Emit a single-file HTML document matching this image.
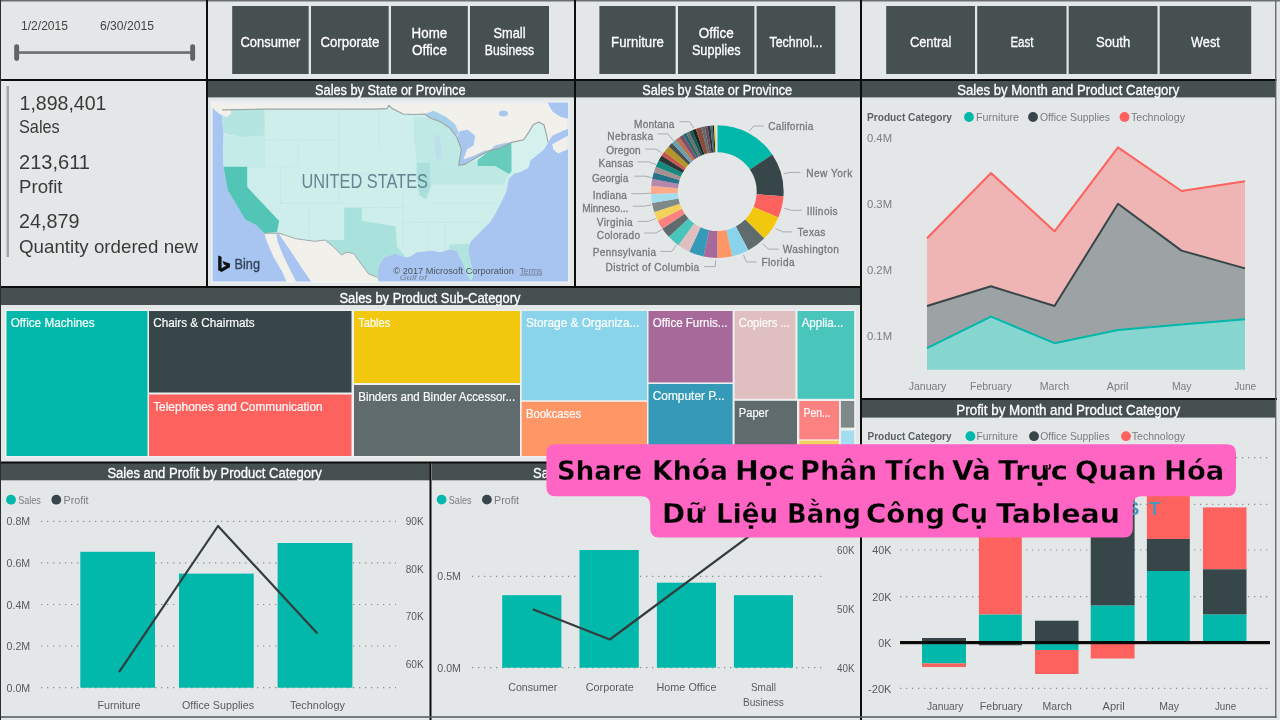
<!DOCTYPE html>
<html lang="vi"><head><meta charset="utf-8"><title>Share Khóa Học Phân Tích Và Trực Quan Hóa Dữ Liệu Bằng Công Cụ Tableau</title>
<style>
html,body{margin:0;padding:0;background:#e4e7e8;}
body{width:1280px;height:720px;overflow:hidden;position:relative;font-family:"Liberation Sans",sans-serif;}
svg{position:absolute;left:0;top:0;display:block;}
svg text{font-family:"Liberation Sans",sans-serif;}
</style></head><body>
<svg width="1280" height="720" viewBox="0 0 1280 720">
<rect x="0.0" y="0.0" width="1280.0" height="720.0" fill="#e4e7e8"/>
<rect x="0.0" y="0.0" width="1280.0" height="1.5" fill="#6a7071"/>
<rect x="208.0" y="81.0" width="366.0" height="16.4" fill="#465051"/>
<text x="315.0" y="95.2" font-size="13.8" fill="#fff" textLength="150.6" lengthAdjust="spacingAndGlyphs" stroke="#fff" stroke-width="0.3">Sales by State or Province</text>
<rect x="576.0" y="81.0" width="285.0" height="16.4" fill="#465051"/>
<text x="642.2" y="95.2" font-size="13.8" fill="#fff" textLength="150.0" lengthAdjust="spacingAndGlyphs" stroke="#fff" stroke-width="0.3">Sales by State or Province</text>
<rect x="862.0" y="81.0" width="414.0" height="16.4" fill="#465051"/>
<text x="957.3" y="95.2" font-size="13.8" fill="#fff" textLength="222.0" lengthAdjust="spacingAndGlyphs" stroke="#fff" stroke-width="0.3">Sales by Month and Product Category</text>
<rect x="0.0" y="288.0" width="860.0" height="17.0" fill="#465051"/>
<text x="339.5" y="302.8" font-size="13.8" fill="#fff" textLength="181.0" lengthAdjust="spacingAndGlyphs" stroke="#fff" stroke-width="0.3">Sales by Product Sub-Category</text>
<rect x="0.0" y="463.0" width="430.0" height="17.3" fill="#465051"/>
<text x="107.4" y="477.6" font-size="13.8" fill="#fff" textLength="214.5" lengthAdjust="spacingAndGlyphs" stroke="#fff" stroke-width="0.3">Sales and Profit by Product Category</text>
<rect x="432.0" y="463.0" width="428.0" height="17.3" fill="#465051"/>
<text x="533.0" y="477.6" font-size="13.8" fill="#fff" textLength="224.0" lengthAdjust="spacingAndGlyphs" stroke="#fff" stroke-width="0.3">Sales and Profit by Customer Segment</text>
<rect x="862.0" y="400.0" width="414.0" height="17.6" fill="#465051"/>
<text x="956.3" y="415.1" font-size="13.8" fill="#fff" textLength="224.0" lengthAdjust="spacingAndGlyphs" stroke="#fff" stroke-width="0.3">Profit by Month and Product Category</text>
<rect x="0.0" y="79.0" width="1276.5" height="2.0" fill="#0c0e0e"/>
<rect x="0.0" y="286.0" width="861.0" height="2.0" fill="#0c0e0e"/>
<rect x="0.0" y="461.5" width="861.0" height="2.0" fill="#0c0e0e"/>
<rect x="861.0" y="398.0" width="416.0" height="2.0" fill="#0c0e0e"/>
<rect x="206.0" y="0.0" width="2.0" height="287.0" fill="#0c0e0e"/>
<rect x="574.0" y="0.0" width="2.0" height="287.0" fill="#0c0e0e"/>
<rect x="860.0" y="0.0" width="2.0" height="720.0" fill="#0c0e0e"/>
<rect x="429.5" y="462.0" width="2.0" height="258.0" fill="#0c0e0e"/>
<rect x="1275.1" y="1.0" width="1.3" height="717.0" fill="#5d6465"/>
<rect x="0.0" y="716.2" width="1276.5" height="1.6" fill="#5a6162"/>
<rect x="-0.1" y="0.0" width="1.1" height="720.0" fill="#2a2f30"/>
<text x="21.0" y="30.0" font-size="12.5" fill="#444" textLength="47.0" lengthAdjust="spacingAndGlyphs">1/2/2015</text>
<text x="100.0" y="30.0" font-size="12.5" fill="#444" textLength="54.0" lengthAdjust="spacingAndGlyphs">6/30/2015</text>
<rect x="16.0" y="51.2" width="177.0" height="2.7" fill="#6e7273"/>
<rect x="14.2" y="44.3" width="4.9" height="16.6" rx="2.3" fill="#606465"/>
<rect x="190.2" y="44.3" width="4.9" height="16.6" rx="2.3" fill="#606465"/>
<rect x="6.5" y="86.0" width="2.5" height="171.0" fill="#a3a7a8"/>
<text x="19.5" y="109.7" font-size="20.5" fill="#3a3a3a" textLength="87.0" lengthAdjust="spacingAndGlyphs">1,898,401</text>
<text x="19.0" y="133.0" font-size="18.5" fill="#3a3a3a" textLength="40.7" lengthAdjust="spacingAndGlyphs">Sales</text>
<text x="19.0" y="169.0" font-size="20.5" fill="#3a3a3a" textLength="71.0" lengthAdjust="spacingAndGlyphs">213,611</text>
<text x="19.0" y="193.0" font-size="18.5" fill="#3a3a3a" textLength="43.5" lengthAdjust="spacingAndGlyphs">Profit</text>
<text x="19.0" y="228.0" font-size="20.5" fill="#3a3a3a" textLength="60.5" lengthAdjust="spacingAndGlyphs">24,879</text>
<text x="19.0" y="253.0" font-size="18.5" fill="#3a3a3a" textLength="179.0" lengthAdjust="spacingAndGlyphs">Quantity ordered new</text>
<rect x="232.2" y="6.0" width="76.5" height="68.0" fill="#465051"/>
<text x="240.4" y="46.8" font-size="14.5" fill="#fff" textLength="60.0" lengthAdjust="spacingAndGlyphs" stroke="#fff" stroke-width="0.3">Consumer</text>
<rect x="311.0" y="6.0" width="77.7" height="68.0" fill="#465051"/>
<text x="320.4" y="46.8" font-size="14.5" fill="#fff" textLength="59.0" lengthAdjust="spacingAndGlyphs" stroke="#fff" stroke-width="0.3">Corporate</text>
<rect x="391.0" y="6.0" width="76.8" height="68.0" fill="#465051"/>
<text x="411.6" y="37.8" font-size="14.5" fill="#fff" textLength="35.6" lengthAdjust="spacingAndGlyphs" stroke="#fff" stroke-width="0.3">Home</text>
<text x="411.9" y="55.0" font-size="14.5" fill="#fff" textLength="35.0" lengthAdjust="spacingAndGlyphs" stroke="#fff" stroke-width="0.3">Office</text>
<rect x="470.0" y="6.0" width="79.0" height="68.0" fill="#465051"/>
<text x="493.5" y="37.8" font-size="14.5" fill="#fff" textLength="32.0" lengthAdjust="spacingAndGlyphs" stroke="#fff" stroke-width="0.3">Small</text>
<text x="484.8" y="55.0" font-size="14.5" fill="#fff" textLength="49.4" lengthAdjust="spacingAndGlyphs" stroke="#fff" stroke-width="0.3">Business</text>
<rect x="599.4" y="6.0" width="76.2" height="68.0" fill="#465051"/>
<text x="611.1" y="46.8" font-size="14.5" fill="#fff" textLength="52.8" lengthAdjust="spacingAndGlyphs" stroke="#fff" stroke-width="0.3">Furniture</text>
<rect x="678.0" y="6.0" width="76.4" height="68.0" fill="#465051"/>
<text x="698.7" y="37.8" font-size="14.5" fill="#fff" textLength="35.0" lengthAdjust="spacingAndGlyphs" stroke="#fff" stroke-width="0.3">Office</text>
<text x="691.9" y="55.0" font-size="14.5" fill="#fff" textLength="48.7" lengthAdjust="spacingAndGlyphs" stroke="#fff" stroke-width="0.3">Supplies</text>
<rect x="756.6" y="6.0" width="78.7" height="68.0" fill="#465051"/>
<text x="769.5" y="46.8" font-size="14.5" fill="#fff" textLength="53.0" lengthAdjust="spacingAndGlyphs" stroke="#fff" stroke-width="0.3">Technol...</text>
<rect x="886.2" y="6.0" width="88.8" height="68.0" fill="#465051"/>
<text x="909.9" y="46.8" font-size="14.5" fill="#fff" textLength="41.5" lengthAdjust="spacingAndGlyphs" stroke="#fff" stroke-width="0.3">Central</text>
<rect x="977.2" y="6.0" width="89.3" height="68.0" fill="#465051"/>
<text x="1010.4" y="46.8" font-size="14.5" fill="#fff" textLength="23.0" lengthAdjust="spacingAndGlyphs" stroke="#fff" stroke-width="0.3">East</text>
<rect x="1068.7" y="6.0" width="88.8" height="68.0" fill="#465051"/>
<text x="1095.9" y="46.8" font-size="14.5" fill="#fff" textLength="34.4" lengthAdjust="spacingAndGlyphs" stroke="#fff" stroke-width="0.3">South</text>
<rect x="1159.7" y="6.0" width="91.5" height="68.0" fill="#465051"/>
<text x="1191.1" y="46.8" font-size="14.5" fill="#fff" textLength="28.7" lengthAdjust="spacingAndGlyphs" stroke="#fff" stroke-width="0.3">West</text>
<defs><clipPath id="mapclip"><rect x="6.6" y="7.6" width="355.6" height="179"/></clipPath><filter id="soft" x="-2%" y="-2%" width="104%" height="104%"><feGaussianBlur stdDeviation="0.55"/></filter></defs>
<rect x="211.4" y="101.4" width="358.0" height="181.2" fill="#f4f6f6"/>
<g transform="translate(206,95)" clip-path="url(#mapclip)"><g filter="url(#soft)">
<rect x="0.0" y="0.0" width="370.0" height="195.0" fill="#a8c4f0"/>
<path d="M13.0,7.6 L19.0,13.6 L16.3,14.9 L58.3,14.1 L108.4,14.1 L169.9,14.1 L170.0,14.1 L180.8,13.6 L183.0,10.3 L186.3,13.6 L197.1,19.0 L207.9,19.5 L218.8,19.0 L224.2,23.0 L235.0,27.1 L243.2,32.5 L249.9,40.7 L251.3,43.4 L255.4,54.2 L252.7,70.5 L259.4,69.1 L273.0,61.0 L283.8,55.6 L294.7,52.8 L305.5,47.4 L317.7,44.7 L323.1,36.6 L327.2,29.8 L332.6,27.1 L338.0,29.8 L340.7,40.7 L342.1,47.4 L346.2,40.7 L357.0,35.8 L361.9,33.9 L361.9,23.8 L354.3,21.7 L346.7,16.8 L341.3,7.6Z" fill="#f2f0ea"/>
<path d="M6.0,7.6 L16.8,7.6 L23.8,13.6 L21.7,19.5 L14.9,19.0 L8.1,14.1 L6.0,11.4Z" fill="#f2f0ea"/>
<path d="M346.2,49.3 L354.3,44.7 L361.9,40.7 L361.9,54.2 L352.1,58.5 L347.5,54.7Z" fill="#f2f0ea"/>
<path d="M219.3,19.0 L227.5,15.7 L239.9,21.7 L249.1,29.3 L252.9,37.9 L250.2,41.2 L243.2,32.5 L235.0,27.1 L224.2,23.0Z" fill="#a6d0ea"/>
<path d="M250.8,43.4 L253.5,36.3 L261.6,34.7 L269.2,40.7 L267.6,50.4 L261.1,54.2 L257.3,65.0 L252.7,70.5 L255.4,54.2Z" fill="#a9c6ee"/>
<path d="M252.7,70.5 L257.3,64.5 L267.6,60.7 L278.4,55.8 L283.8,55.6 L273.0,61.0 L259.4,69.1Z" fill="#a9c6ee"/>
<path d="M283.8,55.6 L289.2,50.4 L300.1,47.7 L305.5,47.4 L294.7,52.8Z" fill="#a9c6ee"/>
<ellipse cx="297.4" cy="18.4" rx="4.5" ry="3" fill="#a9c6ee"/>
<path d="M72.6,138.2 L89.4,143.6 L108.4,146.3 L119.2,145.0 L127.4,151.8 L135.5,159.9 L140.9,157.2 L147.7,158.5 L154.5,168.0 L162.6,178.9 L171.3,182.1 L173.4,189.7 L107.3,189.7 L94.3,170.7 L81.8,151.8 L75.1,142.3Z" fill="#f2f0ea"/>
<path d="M58.3,138.2 L70.5,138.8 L71.5,146.3 L77.0,159.9 L83.5,173.4 L91.6,189.7 L81.8,189.7 L75.9,176.2 L67.8,162.6 L61.2,147.7Z" fill="#f2f0ea"/>
<path d="M16.3,14.9 L58.3,14.1 L108.4,14.1 L169.9,14.1 L170.0,14.1 L180.8,13.6 L183.0,10.3 L186.3,13.6 L197.1,19.0 L207.9,19.5 L218.8,19.0 L224.2,23.0 L235.0,27.1 L243.2,32.5 L249.9,40.7 L251.3,43.4 L255.4,54.2 L252.7,70.5 L259.4,69.1 L273.0,61.0 L283.8,55.6 L294.7,52.8 L305.5,47.4 L317.7,44.7 L323.1,36.6 L327.2,29.8 L332.6,27.1 L338.0,29.8 L340.7,40.7 L342.1,47.4 L338.0,54.2 L329.9,61.0 L324.5,65.0 L323.1,70.5 L321.8,73.2 L313.6,77.2 L308.2,78.6 L302.8,84.0 L301.4,92.1 L300.1,97.6 L297.4,103.0 L294.7,108.4 L292.0,113.8 L289.2,119.2 L283.8,127.4 L278.4,132.8 L270.3,140.9 L264.9,146.3 L262.1,154.5 L263.5,162.6 L266.2,173.4 L267.0,181.6 L264.9,185.6 L260.8,178.9 L256.7,168.0 L252.7,159.9 L251.3,155.8 L243.2,154.5 L235.0,157.2 L224.2,155.8 L210.7,157.2 L205.2,161.2 L199.8,162.6 L189.0,158.5 L178.1,162.6 L172.7,170.7 L171.3,182.1 L162.6,178.9 L154.5,168.0 L147.7,158.5 L140.9,157.2 L135.5,159.9 L127.4,151.8 L119.2,145.0 L108.4,146.3 L89.4,143.6 L73.2,138.2 L58.3,138.2 L50.1,130.1 L39.3,124.7 L29.8,108.4 L21.7,94.9 L17.6,71.8 L16.8,54.2 L17.6,40.7 L16.3,27.1Z" fill="#cdeeeb"/>
<path d="M16.3,14.9 L58.3,14.1 L58.3,40.7 L35.2,42.0 L17.6,37.9 L16.3,27.1Z" fill="#b4e5e0"/>
<path d="M17.6,40.7 L35.2,42.0 L58.3,40.7 L58.3,71.8 L17.6,71.8 L16.8,54.2Z" fill="#c4ebe7"/>
<path d="M17.6,71.8 L41.2,71.8 L41.2,92.1 L73.2,126.0 L71.0,136.9 L58.3,138.2 L50.1,130.1 L39.3,124.7 L29.8,108.4 L21.7,94.9Z" fill="#52c5b6"/>
<path d="M119.2,145.0 L138.2,145.0 L138.2,112.5 L155.8,112.5 L155.8,126.0 L173.4,128.7 L189.7,131.4 L191.1,151.8 L199.8,162.6 L189.0,158.5 L178.1,162.6 L172.7,170.7 L171.3,182.1 L162.6,178.9 L154.5,168.0 L147.7,158.5 L140.9,157.2 L135.5,159.9 L127.4,151.8Z" fill="#a9e1dc"/>
<path d="M207.9,21.7 L224.2,23.0 L235.0,27.1 L243.2,32.5 L249.9,40.7 L251.3,43.4 L255.4,54.2 L252.7,70.5 L224.2,67.8 L210.7,67.8 L207.9,40.7Z" fill="#bfe9e5"/>
<path d="M210.7,67.8 L224.2,67.8 L225.6,89.4 L220.1,104.3 L213.4,100.3 L210.7,81.3Z" fill="#aadfdb"/>
<path d="M252.7,70.5 L259.4,69.1 L271.6,65.0 L271.6,71.0 L289.2,71.0 L302.8,79.1 L297.4,89.4 L273.0,89.4 L251.3,89.4 L224.2,89.4 L224.2,67.8Z" fill="#bde8e4"/>
<path d="M271.6,65.0 L283.8,55.6 L294.7,52.8 L305.5,47.4 L305.5,76.4 L302.8,79.1 L289.2,71.0 L271.6,71.0Z" fill="#68ccbd"/>
<path d="M243.2,154.5 L251.3,155.8 L252.7,159.9 L256.7,168.0 L260.8,178.9 L264.9,185.6 L267.0,181.6 L266.2,173.4 L263.5,162.6 L262.1,154.5 L263.5,148.5 L243.2,149.6Z" fill="#b2e4df"/>
<path d="M305.5,47.4 L317.7,44.7 L323.1,36.6 L327.2,29.8 L332.6,27.1 L338.0,29.8 L340.7,40.7 L342.1,47.4 L338.0,54.2 L329.9,61.0 L324.5,65.0 L323.1,70.5 L321.8,73.2 L313.6,77.2 L306.9,78.0Z" fill="#d4f1ee"/>
<path d="M6.4,7.5 L18.5,7.5 L25.4,12.7 L24.9,19.1 L20.8,22.0 L13.3,19.1 L6.9,13.3Z" fill="#f2f0ea"/>
<path d="M227.5,40.7 L234.0,40.1 L235.6,62.9 L230.2,64.5Z" fill="#bcdfea"/>
<path d="M16.3,14.9 L58.3,14.1 L108.4,14.1 L169.9,14.1 L170.0,14.1 L180.8,13.6 L183.0,10.3 L186.3,13.6 L197.1,19.0 L207.9,19.5 L218.8,19.0 L224.2,23.0 L235.0,27.1 L243.2,32.5 L249.9,40.7 L251.3,43.4 L255.4,54.2 L252.7,70.5 L259.4,69.1 L273.0,61.0 L283.8,55.6 L294.7,52.8 L305.5,47.4 L317.7,44.7 L323.1,36.6 L327.2,29.8 L332.6,27.1 L338.0,29.8 L340.7,40.7 L342.1,47.4" fill="none" stroke="#9aa3a3" stroke-width="1.1" stroke-linejoin="round"/>
<path d="M58.3,138.2 L73.2,138.2 L89.4,143.6 L108.4,146.3 L119.2,145.0 L127.4,151.8 L135.5,159.9 L140.9,157.2 L147.7,158.5 L154.5,168.0 L162.6,178.9 L171.3,182.1" fill="none" stroke="#a5abab" stroke-width="1.0" stroke-linejoin="round"/>
<path d="M58.3,14.1 L58.3,71.8" fill="none" stroke="#b7dcd9" stroke-width="0.6" stroke-linejoin="round" stroke-dasharray="1 1.2"/>
<path d="M41.2,71.8 L92.1,71.8" fill="none" stroke="#b7dcd9" stroke-width="0.6" stroke-linejoin="round" stroke-dasharray="1 1.2"/>
<path d="M92.1,44.7 L92.1,71.8" fill="none" stroke="#b7dcd9" stroke-width="0.6" stroke-linejoin="round" stroke-dasharray="1 1.2"/>
<path d="M58.3,44.7 L132.8,44.7" fill="none" stroke="#b7dcd9" stroke-width="0.6" stroke-linejoin="round" stroke-dasharray="1 1.2"/>
<path d="M132.8,14.1 L132.8,108.4" fill="none" stroke="#b7dcd9" stroke-width="0.6" stroke-linejoin="round" stroke-dasharray="1 1.2"/>
<path d="M74.5,71.8 L74.5,108.4" fill="none" stroke="#b7dcd9" stroke-width="0.6" stroke-linejoin="round" stroke-dasharray="1 1.2"/>
<path d="M74.5,108.4 L138.2,108.4" fill="none" stroke="#b7dcd9" stroke-width="0.6" stroke-linejoin="round" stroke-dasharray="1 1.2"/>
<path d="M103.0,108.4 L103.0,143.6" fill="none" stroke="#b7dcd9" stroke-width="0.6" stroke-linejoin="round" stroke-dasharray="1 1.2"/>
<path d="M173.4,14.1 L173.4,54.2" fill="none" stroke="#b7dcd9" stroke-width="0.6" stroke-linejoin="round" stroke-dasharray="1 1.2"/>
<path d="M132.8,78.6 L189.7,78.6" fill="none" stroke="#b7dcd9" stroke-width="0.6" stroke-linejoin="round" stroke-dasharray="1 1.2"/>
<path d="M155.8,112.5 L200.0,112.5" fill="none" stroke="#b7dcd9" stroke-width="0.6" stroke-linejoin="round" stroke-dasharray="1 1.2"/>
<path d="M197.1,81.3 L197.1,151.8" fill="none" stroke="#b7dcd9" stroke-width="0.6" stroke-linejoin="round" stroke-dasharray="1 1.2"/>
<path d="M221.5,130.1 L221.5,155.8" fill="none" stroke="#b7dcd9" stroke-width="0.6" stroke-linejoin="round" stroke-dasharray="1 1.2"/>
<path d="M239.1,127.4 L239.1,154.5" fill="none" stroke="#b7dcd9" stroke-width="0.6" stroke-linejoin="round" stroke-dasharray="1 1.2"/>
<path d="M197.1,127.4 L278.4,127.4" fill="none" stroke="#b7dcd9" stroke-width="0.6" stroke-linejoin="round" stroke-dasharray="1 1.2"/>
<path d="M226.9,108.4 L289.2,108.4" fill="none" stroke="#b7dcd9" stroke-width="0.6" stroke-linejoin="round" stroke-dasharray="1 1.2"/>
</g>
<text x="95.4" y="93.4" font-size="19.5" fill="#4f7480" fill-opacity="0.85" textLength="126.6" lengthAdjust="spacingAndGlyphs">UNITED STATES</text>
<path transform="translate(12.2,160.6) scale(1.12,1.1)" d="M0,0 L3,1.1 L3,11.5 L7.2,9.1 L5.1,8.1 L3.8,4.9 L10.5,7.2 L10.5,10.7 L3,15 L0,13.3Z" fill="#101314"/>
<text x="28.6" y="174.2" font-size="14.6" fill="#33445a" stroke="#33445a" stroke-width="0.35" textLength="25.4" lengthAdjust="spacingAndGlyphs">Bing</text>
<text x="187.3" y="178.6" font-size="8.6" fill="#4d5557" textLength="120.5" lengthAdjust="spacingAndGlyphs">© 2017 Microsoft Corporation</text>
<text x="313.7" y="178.6" font-size="8.6" fill="#6b7a8c" textLength="22.5" lengthAdjust="spacingAndGlyphs" text-decoration="underline">Terms</text>
<text x="193.7" y="185" font-size="8" fill="#6f8797" font-style="italic" textLength="27" lengthAdjust="spacingAndGlyphs">Gulf of</text>
</g>
<path d="M717.30,125.30 A66.3,66.3 0 0 1 772.27,154.53 L749.96,169.57 A39.4,39.4 0 0 0 717.30,152.20Z" fill="#01b8aa"/>
<path d="M772.27,154.53 A66.3,66.3 0 0 1 783.44,196.22 L756.60,194.35 A39.4,39.4 0 0 0 749.96,169.57Z" fill="#374649"/>
<path d="M783.44,196.22 A66.3,66.3 0 0 1 778.33,217.51 L753.57,206.99 A39.4,39.4 0 0 0 756.60,194.35Z" fill="#fd625e"/>
<path d="M778.33,217.51 A66.3,66.3 0 0 1 764.18,238.48 L745.16,219.46 A39.4,39.4 0 0 0 753.57,206.99Z" fill="#f2c80f"/>
<path d="M764.18,238.48 A66.3,66.3 0 0 1 748.43,250.14 L735.80,226.39 A39.4,39.4 0 0 0 745.16,219.46Z" fill="#5f6b6d"/>
<path d="M748.43,250.14 A66.3,66.3 0 0 1 732.21,256.20 L726.16,229.99 A39.4,39.4 0 0 0 735.80,226.39Z" fill="#8ad4eb"/>
<path d="M732.21,256.20 A66.3,66.3 0 0 1 717.30,257.90 L717.30,231.00 A39.4,39.4 0 0 0 726.16,229.99Z" fill="#fe9666"/>
<path d="M717.30,257.90 A66.3,66.3 0 0 1 703.52,256.45 L709.11,230.14 A39.4,39.4 0 0 0 717.30,231.00Z" fill="#a66999"/>
<path d="M703.52,256.45 A66.3,66.3 0 0 1 689.28,251.69 L700.65,227.31 A39.4,39.4 0 0 0 709.11,230.14Z" fill="#3599b8"/>
<path d="M689.28,251.69 A66.3,66.3 0 0 1 678.33,245.24 L694.14,223.48 A39.4,39.4 0 0 0 700.65,227.31Z" fill="#dfbfbf"/>
<path d="M678.33,245.24 A66.3,66.3 0 0 1 668.81,236.82 L688.48,218.47 A39.4,39.4 0 0 0 694.14,223.48Z" fill="#4ac5bb"/>
<path d="M668.81,236.82 A66.3,66.3 0 0 1 662.33,228.67 L684.64,213.63 A39.4,39.4 0 0 0 688.48,218.47Z" fill="#5f6b6d"/>
<path d="M662.33,228.67 A66.3,66.3 0 0 1 657.71,220.66 L681.89,208.87 A39.4,39.4 0 0 0 684.64,213.63Z" fill="#fb8281"/>
<path d="M657.71,220.66 A66.3,66.3 0 0 1 654.24,212.09 L679.83,203.78 A39.4,39.4 0 0 0 681.89,208.87Z" fill="#f4d25a"/>
<path d="M654.24,212.09 A66.3,66.3 0 0 1 652.01,203.11 L678.50,198.44 A39.4,39.4 0 0 0 679.83,203.78Z" fill="#7f898a"/>
<path d="M652.01,203.11 A66.3,66.3 0 0 1 651.04,193.91 L677.92,192.98 A39.4,39.4 0 0 0 678.50,198.44Z" fill="#a4ddee"/>
<path d="M651.04,193.91 A66.3,66.3 0 0 1 651.25,185.82 L678.05,188.17 A39.4,39.4 0 0 0 677.92,192.98Z" fill="#fdab89"/>
<path d="M651.25,185.82 A66.3,66.3 0 0 1 652.22,178.95 L678.62,184.08 A39.4,39.4 0 0 0 678.05,188.17Z" fill="#b687ac"/>
<path d="M652.22,178.95 A66.3,66.3 0 0 1 653.90,172.22 L679.62,180.08 A39.4,39.4 0 0 0 678.62,184.08Z" fill="#28738a"/>
<path d="M653.90,172.22 A66.3,66.3 0 0 1 655.83,166.76 L680.77,176.84 A39.4,39.4 0 0 0 679.62,180.08Z" fill="#a78f8f"/>
<path d="M655.83,166.76 A66.3,66.3 0 0 1 658.76,160.47 L682.51,173.10 A39.4,39.4 0 0 0 680.77,176.84Z" fill="#168980"/>
<path d="M658.76,160.47 A66.3,66.3 0 0 1 661.70,155.49 L684.26,170.14 A39.4,39.4 0 0 0 682.51,173.10Z" fill="#293537"/>
<path d="M661.70,155.49 A66.3,66.3 0 0 1 664.35,151.70 L685.83,167.89 A39.4,39.4 0 0 0 684.26,170.14Z" fill="#c8534f"/>
<path d="M664.35,151.70 A66.3,66.3 0 0 1 668.81,146.38 L688.48,164.73 A39.4,39.4 0 0 0 685.83,167.89Z" fill="#b59525"/>
<path d="M668.81,146.38 A66.3,66.3 0 0 1 672.08,143.11 L690.43,162.78 A39.4,39.4 0 0 0 688.48,164.73Z" fill="#475052"/>
<path d="M672.08,143.11 A66.3,66.3 0 0 1 675.58,140.08 L692.50,160.98 A39.4,39.4 0 0 0 690.43,162.78Z" fill="#6a9fb0"/>
<path d="M675.58,140.08 A66.3,66.3 0 0 1 679.27,137.29 L694.70,159.33 A39.4,39.4 0 0 0 692.50,160.98Z" fill="#bd7150"/>
<path d="M679.27,137.29 A66.3,66.3 0 0 1 683.15,134.77 L697.01,157.83 A39.4,39.4 0 0 0 694.70,159.33Z" fill="#7b4f71"/>
<path d="M683.15,134.77 A66.3,66.3 0 0 1 686.17,133.06 L698.80,156.81 A39.4,39.4 0 0 0 697.01,157.83Z" fill="#1b6d6c"/>
<path d="M686.17,133.06 A66.3,66.3 0 0 1 689.28,131.51 L700.65,155.89 A39.4,39.4 0 0 0 698.80,156.81Z" fill="#706a6a"/>
<path d="M689.28,131.51 A66.3,66.3 0 0 1 692.46,130.13 L702.54,155.07 A39.4,39.4 0 0 0 700.65,155.89Z" fill="#0f5c55"/>
<path d="M692.46,130.13 A66.3,66.3 0 0 1 695.71,128.91 L704.47,154.35 A39.4,39.4 0 0 0 702.54,155.07Z" fill="#1c2325"/>
<path d="M695.71,128.91 A66.3,66.3 0 0 1 701.26,127.27 L707.77,153.37 A39.4,39.4 0 0 0 704.47,154.35Z" fill="#8a4b3a"/>
<path d="M701.26,127.27 A66.3,66.3 0 0 1 704.65,126.52 L709.78,152.92 A39.4,39.4 0 0 0 707.77,153.37Z" fill="#5f6b6d"/>
<path d="M704.65,126.52 A66.3,66.3 0 0 1 707.50,126.03 L711.48,152.63 A39.4,39.4 0 0 0 709.78,152.92Z" fill="#6b4a5c"/>
<path d="M707.50,126.03 A66.3,66.3 0 0 1 710.37,125.66 L713.18,152.42 A39.4,39.4 0 0 0 711.48,152.63Z" fill="#303637"/>
<path d="M710.37,125.66 A66.3,66.3 0 0 1 712.68,125.46 L714.55,152.30 A39.4,39.4 0 0 0 713.18,152.42Z" fill="#476a75"/>
<path d="M712.68,125.46 A66.3,66.3 0 0 1 714.06,125.38 L715.38,152.25 A39.4,39.4 0 0 0 714.55,152.30Z" fill="#1c2325"/>
<path d="M714.06,125.38 A66.3,66.3 0 0 1 715.68,125.32 L716.34,152.21 A39.4,39.4 0 0 0 715.38,152.25Z" fill="#f4d25a"/>
<path d="M715.68,125.32 A66.3,66.3 0 0 1 717.30,125.30 L717.30,152.20 A39.4,39.4 0 0 0 716.34,152.21Z" fill="#cfe9e6"/>
<text x="768.3" y="130.3" font-size="10.1" fill="#77797a" stroke="#77797a" stroke-width="0.3" textLength="45.1" lengthAdjust="spacing">California</text>
<path d="M749.3,131.0 L753.7,126.0 L763.9,126.0" fill="none" stroke="#a9adad" stroke-width="1" stroke-linejoin="round"/>
<text x="806.2" y="176.7" font-size="10.1" fill="#77797a" stroke="#77797a" stroke-width="0.3" textLength="46.0" lengthAdjust="spacing">New York</text>
<path d="M783.7,173.9 L790.0,172.4 L800.3,172.4" fill="none" stroke="#a9adad" stroke-width="1" stroke-linejoin="round"/>
<text x="806.7" y="214.6" font-size="10.1" fill="#77797a" stroke="#77797a" stroke-width="0.3" textLength="30.9" lengthAdjust="spacing">Illinois</text>
<path d="M784.3,208.3 L791.6,210.3 L801.8,210.3" fill="none" stroke="#a9adad" stroke-width="1" stroke-linejoin="round"/>
<text x="797.4" y="236.2" font-size="10.1" fill="#77797a" stroke="#77797a" stroke-width="0.3" textLength="28.0" lengthAdjust="spacing">Texas</text>
<path d="M775.5,228.7 L782.8,231.9 L792.0,231.9" fill="none" stroke="#a9adad" stroke-width="1" stroke-linejoin="round"/>
<text x="782.8" y="253.4" font-size="10.1" fill="#77797a" stroke="#77797a" stroke-width="0.3" textLength="56.0" lengthAdjust="spacing">Washington</text>
<path d="M762.4,243.3 L768.3,249.1 L778.5,249.1" fill="none" stroke="#a9adad" stroke-width="1" stroke-linejoin="round"/>
<text x="761.5" y="266.2" font-size="10.1" fill="#77797a" stroke="#77797a" stroke-width="0.3" textLength="33.0" lengthAdjust="spacing">Florida</text>
<path d="M743.5,255.0 L746.4,261.9 L756.6,261.9" fill="none" stroke="#a9adad" stroke-width="1" stroke-linejoin="round"/>
<text x="634.1" y="128.0" font-size="10.1" fill="#77797a" stroke="#77797a" stroke-width="0.3" textLength="40.3" lengthAdjust="spacing">Montana</text>
<path d="M679.3,121.7 L689.5,121.7 L693.9,128.1" fill="none" stroke="#a9adad" stroke-width="1" stroke-linejoin="round"/>
<text x="607.3" y="140.3" font-size="10.1" fill="#77797a" stroke="#77797a" stroke-width="0.3" textLength="45.8" lengthAdjust="spacing">Nebraska</text>
<path d="M657.5,133.9 L667.7,133.9 L673.5,140.6" fill="none" stroke="#a9adad" stroke-width="1" stroke-linejoin="round"/>
<text x="606.2" y="154.3" font-size="10.1" fill="#77797a" stroke="#77797a" stroke-width="0.3" textLength="34.4" lengthAdjust="spacing">Oregon</text>
<path d="M645.2,149.1 L656.0,149.1 L661.8,152.9" fill="none" stroke="#a9adad" stroke-width="1" stroke-linejoin="round"/>
<text x="598.6" y="166.8" font-size="10.1" fill="#77797a" stroke="#77797a" stroke-width="0.3" textLength="34.7" lengthAdjust="spacing">Kansas</text>
<path d="M637.6,161.9 L648.7,161.9 L656.0,164.5" fill="none" stroke="#a9adad" stroke-width="1" stroke-linejoin="round"/>
<text x="591.9" y="182.0" font-size="10.1" fill="#77797a" stroke="#77797a" stroke-width="0.3" textLength="36.4" lengthAdjust="spacing">Georgia</text>
<path d="M634.1,176.2 L645.8,176.2 L651.6,177.7" fill="none" stroke="#a9adad" stroke-width="1" stroke-linejoin="round"/>
<text x="592.7" y="198.9" font-size="10.1" fill="#77797a" stroke="#77797a" stroke-width="0.3" textLength="34.2" lengthAdjust="spacing">Indiana</text>
<path d="M631.2,193.7 L642.9,193.7 L651.0,193.1" fill="none" stroke="#a9adad" stroke-width="1" stroke-linejoin="round"/>
<text x="582.2" y="211.7" font-size="10.1" fill="#77797a" stroke="#77797a" stroke-width="0.3" textLength="46.1" lengthAdjust="spacing">Minneso...</text>
<path d="M632.7,206.2 L644.3,206.2 L651.6,204.8" fill="none" stroke="#a9adad" stroke-width="1" stroke-linejoin="round"/>
<text x="596.8" y="226.3" font-size="10.1" fill="#77797a" stroke="#77797a" stroke-width="0.3" textLength="35.9" lengthAdjust="spacing">Virginia</text>
<path d="M637.6,221.4 L648.7,221.4 L656.0,218.5" fill="none" stroke="#a9adad" stroke-width="1" stroke-linejoin="round"/>
<text x="596.8" y="238.8" font-size="10.1" fill="#77797a" stroke="#77797a" stroke-width="0.3" textLength="43.2" lengthAdjust="spacing">Colorado</text>
<path d="M644.3,233.0 L656.0,233.0 L661.8,229.6" fill="none" stroke="#a9adad" stroke-width="1" stroke-linejoin="round"/>
<text x="592.7" y="256.3" font-size="10.1" fill="#77797a" stroke="#77797a" stroke-width="0.3" textLength="63.3" lengthAdjust="spacing">Pennsylvania</text>
<path d="M660.4,251.4 L672.0,251.4 L676.4,244.7" fill="none" stroke="#a9adad" stroke-width="1" stroke-linejoin="round"/>
<text x="605.6" y="271.2" font-size="10.1" fill="#77797a" stroke="#77797a" stroke-width="0.3" textLength="93.6" lengthAdjust="spacing">District of Columbia</text>
<path d="M704.1,266.6 L715.2,266.6 L715.8,260.2" fill="none" stroke="#a9adad" stroke-width="1" stroke-linejoin="round"/>
<text x="867.0" y="121.0" font-size="11.5" fill="#5c6162" textLength="85.0" lengthAdjust="spacingAndGlyphs" font-weight="bold">Product Category</text>
<circle cx="969" cy="117" r="4.9" fill="#01b8aa"/>
<text x="976.0" y="121.0" font-size="11.5" fill="#7a7d7e" textLength="43.0" lengthAdjust="spacingAndGlyphs">Furniture</text>
<circle cx="1033" cy="117" r="4.9" fill="#374649"/>
<text x="1040.0" y="121.0" font-size="11.5" fill="#7a7d7e" textLength="70.0" lengthAdjust="spacingAndGlyphs">Office Supplies</text>
<circle cx="1124.5" cy="117" r="4.9" fill="#fd625e"/>
<text x="1131.0" y="121.0" font-size="11.5" fill="#7a7d7e" textLength="54.0" lengthAdjust="spacingAndGlyphs">Technology</text>
<text x="867.0" y="142.1" font-size="11.5" fill="#7a7d7e" textLength="25.0" lengthAdjust="spacingAndGlyphs">0.4M</text>
<text x="867.0" y="208.1" font-size="11.5" fill="#7a7d7e" textLength="25.0" lengthAdjust="spacingAndGlyphs">0.3M</text>
<text x="867.0" y="274.1" font-size="11.5" fill="#7a7d7e" textLength="25.0" lengthAdjust="spacingAndGlyphs">0.2M</text>
<text x="867.0" y="339.5" font-size="11.5" fill="#7a7d7e" textLength="25.0" lengthAdjust="spacingAndGlyphs">0.1M</text>
<path d="M927.0,238.2 L991.0,173.0 L1054.5,231.3 L1118.0,147.4 L1181.5,191.0 L1245.0,181.3 L1245.0,268.4 L1181.5,250.6 L1118.0,203.8 L1054.5,306.0 L991.0,286.3 L927.0,306.0Z" fill="#efb4b4"/>
<path d="M927.0,306.0 L991.0,286.3 L1054.5,306.0 L1118.0,203.8 L1181.5,250.6 L1245.0,268.4 L1245.0,319.3 L1181.5,324.4 L1118.0,329.9 L1054.5,343.2 L991.0,316.6 L927.0,348.2Z" fill="#9da3a4"/>
<path d="M927.0,348.2 L991.0,316.6 L1054.5,343.2 L1118.0,329.9 L1181.5,324.4 L1245.0,319.3 L1245.0,369.8 L1181.5,369.8 L1118.0,369.8 L1054.5,369.8 L991.0,369.8 L927.0,369.8Z" fill="#86d5ce"/>
<path d="M927.0,238.2 L991.0,173.0 L1054.5,231.3 L1118.0,147.4 L1181.5,191.0 L1245.0,181.3" fill="none" stroke="#fd625e" stroke-width="2" stroke-linejoin="round"/>
<path d="M927.0,306.0 L991.0,286.3 L1054.5,306.0 L1118.0,203.8 L1181.5,250.6 L1245.0,268.4" fill="none" stroke="#374649" stroke-width="2" stroke-linejoin="round"/>
<path d="M927.0,348.2 L991.0,316.6 L1054.5,343.2 L1118.0,329.9 L1181.5,324.4 L1245.0,319.3" fill="none" stroke="#01b8aa" stroke-width="2" stroke-linejoin="round"/>
<text x="908.7" y="390.0" font-size="11.5" fill="#7a7d7e" textLength="37.6" lengthAdjust="spacingAndGlyphs">January</text>
<text x="970.0" y="390.0" font-size="11.5" fill="#7a7d7e" textLength="41.8" lengthAdjust="spacingAndGlyphs">February</text>
<text x="1039.8" y="390.0" font-size="11.5" fill="#7a7d7e" textLength="29.4" lengthAdjust="spacingAndGlyphs">March</text>
<text x="1106.8" y="390.0" font-size="11.5" fill="#7a7d7e" textLength="21.5" lengthAdjust="spacingAndGlyphs">April</text>
<text x="1171.9" y="390.0" font-size="11.5" fill="#7a7d7e" textLength="19.7" lengthAdjust="spacingAndGlyphs">May</text>
<text x="1234.2" y="390.0" font-size="11.5" fill="#7a7d7e" textLength="22.0" lengthAdjust="spacingAndGlyphs">June</text>
<rect x="5.0" y="309.6" width="851.0" height="147.8" fill="#eef0f0"/>
<rect x="6.5" y="311.0" width="141.0" height="145.0" fill="#01b8aa"/>
<text x="10.7" y="327.3" font-size="12" fill="#fff" textLength="84.0" lengthAdjust="spacingAndGlyphs" fill-opacity="0.97" stroke="#fff" stroke-width="0.2">Office Machines</text>
<rect x="149.0" y="311.0" width="202.5" height="81.5" fill="#374649"/>
<text x="153.2" y="327.3" font-size="12" fill="#fff" textLength="101.5" lengthAdjust="spacingAndGlyphs" fill-opacity="0.97" stroke="#fff" stroke-width="0.2">Chairs &amp; Chairmats</text>
<rect x="149.0" y="394.5" width="202.5" height="61.5" fill="#fd625e"/>
<text x="153.2" y="410.8" font-size="12" fill="#fff" textLength="169.5" lengthAdjust="spacingAndGlyphs" fill-opacity="0.97" stroke="#fff" stroke-width="0.2">Telephones and Communication</text>
<rect x="354.0" y="311.0" width="166.0" height="72.0" fill="#f2c80f"/>
<text x="358.2" y="327.3" font-size="12" fill="#fff" textLength="32.0" lengthAdjust="spacingAndGlyphs" fill-opacity="0.97" stroke="#fff" stroke-width="0.2">Tables</text>
<rect x="354.0" y="385.0" width="166.0" height="71.0" fill="#5f6b6d"/>
<text x="358.2" y="401.3" font-size="12" fill="#fff" textLength="157.0" lengthAdjust="spacingAndGlyphs" fill-opacity="0.97" stroke="#fff" stroke-width="0.2">Binders and Binder Accessor...</text>
<rect x="521.7" y="311.0" width="125.3" height="89.2" fill="#8ad4eb"/>
<text x="525.9" y="327.3" font-size="12" fill="#fff" textLength="113.5" lengthAdjust="spacingAndGlyphs" fill-opacity="0.97" stroke="#fff" stroke-width="0.2">Storage &amp; Organiza...</text>
<rect x="521.7" y="401.8" width="125.3" height="54.2" fill="#fe9666"/>
<text x="525.9" y="418.1" font-size="12" fill="#fff" textLength="55.3" lengthAdjust="spacingAndGlyphs" fill-opacity="0.97" stroke="#fff" stroke-width="0.2">Bookcases</text>
<rect x="648.5" y="311.0" width="84.1" height="71.4" fill="#a66999"/>
<text x="652.7" y="327.3" font-size="12" fill="#fff" textLength="74.8" lengthAdjust="spacingAndGlyphs" fill-opacity="0.97" stroke="#fff" stroke-width="0.2">Office Furnis...</text>
<rect x="648.5" y="384.0" width="84.1" height="72.0" fill="#3599b8"/>
<text x="652.7" y="400.3" font-size="12" fill="#fff" textLength="72.0" lengthAdjust="spacingAndGlyphs" fill-opacity="0.97" stroke="#fff" stroke-width="0.2">Computer P...</text>
<rect x="734.6" y="311.0" width="60.8" height="87.8" fill="#dfbfbf"/>
<text x="738.8" y="327.3" font-size="12" fill="#fff" textLength="51.0" lengthAdjust="spacingAndGlyphs" fill-opacity="0.97" stroke="#fff" stroke-width="0.2">Copiers ...</text>
<rect x="797.5" y="311.0" width="56.7" height="87.8" fill="#4ac5bb"/>
<text x="801.7" y="327.3" font-size="12" fill="#fff" textLength="41.6" lengthAdjust="spacingAndGlyphs" fill-opacity="0.97" stroke="#fff" stroke-width="0.2">Applia...</text>
<rect x="734.6" y="400.8" width="62.4" height="55.2" fill="#5f6b6d"/>
<text x="738.8" y="417.1" font-size="12" fill="#fff" textLength="29.7" lengthAdjust="spacingAndGlyphs" fill-opacity="0.97" stroke="#fff" stroke-width="0.2">Paper</text>
<rect x="799.3" y="401.0" width="39.7" height="38.4" fill="#fb8281"/>
<text x="803.5" y="417.3" font-size="12" fill="#fff" textLength="27.0" lengthAdjust="spacingAndGlyphs" fill-opacity="0.97" stroke="#fff" stroke-width="0.2">Pen...</text>
<rect x="799.3" y="440.6" width="39.7" height="15.4" fill="#f4d25a"/>
<rect x="840.9" y="401.0" width="13.3" height="26.6" fill="#7f898a"/>
<rect x="840.9" y="430.5" width="13.3" height="25.5" fill="#a4ddee"/>
<circle cx="11" cy="499.7" r="4.9" fill="#01b8aa"/>
<text x="18.2" y="503.7" font-size="11.5" fill="#7a7d7e" textLength="22.7" lengthAdjust="spacingAndGlyphs">Sales</text>
<circle cx="56.3" cy="499.7" r="4.9" fill="#374649"/>
<text x="63.5" y="503.7" font-size="11.5" fill="#7a7d7e" textLength="25.0" lengthAdjust="spacingAndGlyphs">Profit</text>
<text x="6.6" y="525.4" font-size="11.5" fill="#595b5c" textLength="23.6" lengthAdjust="spacingAndGlyphs">0.8M</text>
<line x1="41.0" y1="521.3" x2="396.0" y2="521.3" stroke="#8a9091" stroke-width="1.2" stroke-dasharray="1.3 4.7"/>
<text x="6.6" y="567.0" font-size="11.5" fill="#595b5c" textLength="23.6" lengthAdjust="spacingAndGlyphs">0.6M</text>
<line x1="41.0" y1="562.9" x2="396.0" y2="562.9" stroke="#8a9091" stroke-width="1.2" stroke-dasharray="1.3 4.7"/>
<text x="6.6" y="608.6" font-size="11.5" fill="#595b5c" textLength="23.6" lengthAdjust="spacingAndGlyphs">0.4M</text>
<line x1="41.0" y1="604.5" x2="396.0" y2="604.5" stroke="#8a9091" stroke-width="1.2" stroke-dasharray="1.3 4.7"/>
<text x="6.6" y="650.1" font-size="11.5" fill="#595b5c" textLength="23.6" lengthAdjust="spacingAndGlyphs">0.2M</text>
<line x1="41.0" y1="646.0" x2="396.0" y2="646.0" stroke="#8a9091" stroke-width="1.2" stroke-dasharray="1.3 4.7"/>
<text x="6.6" y="691.8" font-size="11.5" fill="#595b5c" textLength="23.6" lengthAdjust="spacingAndGlyphs">0.0M</text>
<line x1="41.0" y1="687.7" x2="396.0" y2="687.7" stroke="#8a9091" stroke-width="1.2" stroke-dasharray="1.3 4.7"/>
<text x="405.7" y="525.4" font-size="11.5" fill="#595b5c" textLength="18.0" lengthAdjust="spacingAndGlyphs">90K</text>
<text x="405.7" y="572.5" font-size="11.5" fill="#595b5c" textLength="18.0" lengthAdjust="spacingAndGlyphs">80K</text>
<text x="405.7" y="620.1" font-size="11.5" fill="#595b5c" textLength="18.0" lengthAdjust="spacingAndGlyphs">70K</text>
<text x="405.7" y="668.1" font-size="11.5" fill="#595b5c" textLength="18.0" lengthAdjust="spacingAndGlyphs">60K</text>
<rect x="80.3" y="551.8" width="74.7" height="135.9" fill="#01b8aa"/>
<rect x="179.0" y="573.6" width="74.7" height="114.1" fill="#01b8aa"/>
<rect x="277.6" y="543.0" width="74.8" height="144.7" fill="#01b8aa"/>
<path d="M119.0,672.2 L218.0,526.0 L317.4,633.6" fill="none" stroke="#333d3f" stroke-width="2.2" stroke-linejoin="round"/>
<text x="97.5" y="709.3" font-size="11.5" fill="#595b5c" textLength="43.0" lengthAdjust="spacingAndGlyphs">Furniture</text>
<text x="182.0" y="709.3" font-size="11.5" fill="#595b5c" textLength="72.0" lengthAdjust="spacingAndGlyphs">Office Supplies</text>
<text x="289.9" y="709.3" font-size="11.5" fill="#595b5c" textLength="55.0" lengthAdjust="spacingAndGlyphs">Technology</text>
<circle cx="441.6" cy="499.6" r="4.9" fill="#01b8aa"/>
<text x="448.8" y="503.6" font-size="11.5" fill="#7a7d7e" textLength="22.7" lengthAdjust="spacingAndGlyphs">Sales</text>
<circle cx="486.90000000000003" cy="499.6" r="4.9" fill="#374649"/>
<text x="494.1" y="503.6" font-size="11.5" fill="#7a7d7e" textLength="25.0" lengthAdjust="spacingAndGlyphs">Profit</text>
<text x="437.3" y="580.4" font-size="11.5" fill="#595b5c" textLength="23.6" lengthAdjust="spacingAndGlyphs">0.5M</text>
<line x1="472.0" y1="576.3" x2="826.0" y2="576.3" stroke="#8a9091" stroke-width="1.2" stroke-dasharray="1.3 4.7"/>
<text x="437.3" y="671.8" font-size="11.5" fill="#595b5c" textLength="23.6" lengthAdjust="spacingAndGlyphs">0.0M</text>
<line x1="472.0" y1="667.7" x2="826.0" y2="667.7" stroke="#8a9091" stroke-width="1.2" stroke-dasharray="1.3 4.7"/>
<text x="837.0" y="554.1" font-size="11.5" fill="#595b5c" textLength="17.5" lengthAdjust="spacingAndGlyphs">60K</text>
<text x="837.0" y="612.6" font-size="11.5" fill="#595b5c" textLength="17.5" lengthAdjust="spacingAndGlyphs">50K</text>
<text x="837.0" y="671.8" font-size="11.5" fill="#595b5c" textLength="17.5" lengthAdjust="spacingAndGlyphs">40K</text>
<rect x="502.2" y="595.2" width="59.2" height="72.5" fill="#01b8aa"/>
<rect x="579.5" y="550.0" width="59.3" height="117.7" fill="#01b8aa"/>
<rect x="656.9" y="582.7" width="59.1" height="85.0" fill="#01b8aa"/>
<rect x="733.9" y="595.2" width="59.1" height="72.5" fill="#01b8aa"/>
<path d="M532.8,609.3 L609.8,639.5 L771.0,520.0" fill="none" stroke="#333d3f" stroke-width="2.2" stroke-linejoin="round"/>
<text x="508.3" y="691.0" font-size="11.5" fill="#595b5c" textLength="49.0" lengthAdjust="spacingAndGlyphs">Consumer</text>
<text x="585.8" y="691.0" font-size="11.5" fill="#595b5c" textLength="48.0" lengthAdjust="spacingAndGlyphs">Corporate</text>
<text x="656.5" y="691.0" font-size="11.5" fill="#595b5c" textLength="60.0" lengthAdjust="spacingAndGlyphs">Home Office</text>
<text x="750.9" y="691.0" font-size="11.5" fill="#595b5c" textLength="25.0" lengthAdjust="spacingAndGlyphs">Small</text>
<text x="742.9" y="706.4" font-size="11.5" fill="#595b5c" textLength="41.0" lengthAdjust="spacingAndGlyphs">Business</text>
<text x="867.5" y="440.2" font-size="11.5" fill="#5c6162" textLength="84.0" lengthAdjust="spacingAndGlyphs" font-weight="bold">Product Category</text>
<circle cx="970.4" cy="436.2" r="4.9" fill="#01b8aa"/>
<text x="976.5" y="440.2" font-size="11.5" fill="#7a7d7e" textLength="41.5" lengthAdjust="spacingAndGlyphs">Furniture</text>
<circle cx="1034" cy="436.2" r="4.9" fill="#374649"/>
<text x="1040.2" y="440.2" font-size="11.5" fill="#7a7d7e" textLength="69.4" lengthAdjust="spacingAndGlyphs">Office Supplies</text>
<circle cx="1126" cy="436.2" r="4.9" fill="#fd625e"/>
<text x="1131.8" y="440.2" font-size="11.5" fill="#7a7d7e" textLength="53.2" lengthAdjust="spacingAndGlyphs">Technology</text>
<line x1="900.0" y1="457.6" x2="1270.0" y2="457.6" stroke="#8a9091" stroke-width="1.2" stroke-dasharray="1.3 4.7"/>
<line x1="900.0" y1="504.3" x2="1270.0" y2="504.3" stroke="#8a9091" stroke-width="1.2" stroke-dasharray="1.3 4.7"/>
<line x1="900.0" y1="550.0" x2="1270.0" y2="550.0" stroke="#8a9091" stroke-width="1.2" stroke-dasharray="1.3 4.7"/>
<line x1="900.0" y1="596.6" x2="1270.0" y2="596.6" stroke="#8a9091" stroke-width="1.2" stroke-dasharray="1.3 4.7"/>
<line x1="900.0" y1="688.4" x2="1270.0" y2="688.4" stroke="#8a9091" stroke-width="1.2" stroke-dasharray="1.3 4.7"/>
<text x="872.2" y="554.1" font-size="11.5" fill="#595b5c" textLength="19.3" lengthAdjust="spacingAndGlyphs">40K</text>
<text x="872.2" y="601.1" font-size="11.5" fill="#595b5c" textLength="19.3" lengthAdjust="spacingAndGlyphs">20K</text>
<text x="878.3" y="646.9" font-size="11.5" fill="#595b5c" textLength="13.2" lengthAdjust="spacingAndGlyphs">0K</text>
<text x="868.0" y="693.1" font-size="11.5" fill="#595b5c" textLength="23.5" lengthAdjust="spacingAndGlyphs">-20K</text>
<rect x="922.0" y="638.0" width="44.0" height="4.0" fill="#374649"/>
<rect x="922.0" y="642.0" width="44.0" height="21.4" fill="#01b8aa"/>
<rect x="922.0" y="663.4" width="44.0" height="3.6" fill="#fd625e"/>
<rect x="978.9" y="470.0" width="42.9" height="144.6" fill="#fd625e"/>
<rect x="978.9" y="614.6" width="42.9" height="27.4" fill="#01b8aa"/>
<rect x="978.9" y="642.0" width="42.9" height="3.3" fill="#374649"/>
<rect x="1035.0" y="620.7" width="43.5" height="21.3" fill="#374649"/>
<rect x="1035.0" y="642.0" width="43.5" height="8.0" fill="#01b8aa"/>
<rect x="1035.0" y="650.0" width="43.5" height="24.0" fill="#fd625e"/>
<rect x="1090.7" y="480.0" width="43.9" height="125.6" fill="#374649"/>
<rect x="1090.7" y="605.6" width="43.9" height="36.4" fill="#01b8aa"/>
<rect x="1090.7" y="642.0" width="43.9" height="16.5" fill="#fd625e"/>
<rect x="1146.9" y="488.0" width="42.9" height="51.0" fill="#fd625e"/>
<rect x="1146.9" y="539.0" width="42.9" height="32.0" fill="#374649"/>
<rect x="1146.9" y="571.0" width="42.9" height="71.0" fill="#01b8aa"/>
<rect x="1203.0" y="507.4" width="43.5" height="61.9" fill="#fd625e"/>
<rect x="1203.0" y="569.3" width="43.5" height="45.3" fill="#374649"/>
<rect x="1203.0" y="614.6" width="43.5" height="27.4" fill="#01b8aa"/>
<rect x="900.0" y="641.0" width="370.0" height="3.2" fill="#0a0a0a"/>
<text x="926.9" y="710.2" font-size="11.5" fill="#595b5c" textLength="36.4" lengthAdjust="spacingAndGlyphs">January</text>
<text x="979.8" y="710.2" font-size="11.5" fill="#595b5c" textLength="42.5" lengthAdjust="spacingAndGlyphs">February</text>
<text x="1042.6" y="710.2" font-size="11.5" fill="#595b5c" textLength="29.2" lengthAdjust="spacingAndGlyphs">March</text>
<text x="1102.5" y="710.2" font-size="11.5" fill="#595b5c" textLength="22.2" lengthAdjust="spacingAndGlyphs">April</text>
<text x="1159.2" y="710.2" font-size="11.5" fill="#595b5c" textLength="19.8" lengthAdjust="spacingAndGlyphs">May</text>
<text x="1214.9" y="710.2" font-size="11.5" fill="#595b5c" textLength="21.2" lengthAdjust="spacingAndGlyphs">June</text>
<text x="1149" y="515" font-size="18.5" font-weight="bold" fill="#4a97b8">T</text>
<text x="1127" y="515" font-size="18.5" font-weight="bold" fill="#4a97b8">S</text>
<path d="M555.4,444.2 H1227 Q1236,444.2 1236,453.2 V487.2 Q1236,496.2 1227,496.2 H1141.8 Q1132.8,496.2 1132.8,505.2 V528.6 Q1132.8,537.6 1123.8,537.6 H659.2 Q650.2,537.6 650.2,528.6 V505.2 Q650.2,496.2 641.2,496.2 H555.4 Q546.4,496.2 546.4,487.2 V453.2 Q546.4,444.2 555.4,444.2Z" fill="#ff66c4"/>
<text y="480" font-size="27.4" font-weight="bold" fill="#000" stroke="#ff66c4" stroke-width="0.35" style="font-family:'DejaVu Sans','Liberation Sans',sans-serif"><tspan x="557.00" textLength="85.00" lengthAdjust="spacingAndGlyphs">Share</tspan> <tspan x="652.00" textLength="76.00" lengthAdjust="spacingAndGlyphs">Khóa</tspan> <tspan x="735.00" textLength="60.00" lengthAdjust="spacingAndGlyphs">Học</tspan> <tspan x="800.00" textLength="77.00" lengthAdjust="spacingAndGlyphs">Phân</tspan> <tspan x="885.00" textLength="61.00" lengthAdjust="spacingAndGlyphs">Tích</tspan> <tspan x="952.00" textLength="39.00" lengthAdjust="spacingAndGlyphs">Và</tspan> <tspan x="998.00" textLength="70.00" lengthAdjust="spacingAndGlyphs">Trực</tspan> <tspan x="1075.00" textLength="81.60" lengthAdjust="spacingAndGlyphs">Quan</tspan> <tspan x="1164.00" textLength="60.20" lengthAdjust="spacingAndGlyphs">Hóa</tspan></text>
<text y="522.5" font-size="27.4" font-weight="bold" fill="#000" stroke="#ff66c4" stroke-width="0.35" style="font-family:'DejaVu Sans','Liberation Sans',sans-serif"><tspan x="662.00" textLength="43.00" lengthAdjust="spacingAndGlyphs">Dữ</tspan> <tspan x="716.00" textLength="62.00" lengthAdjust="spacingAndGlyphs">Liệu</tspan> <tspan x="787.00" textLength="74.00" lengthAdjust="spacingAndGlyphs">Bằng</tspan> <tspan x="866.00" textLength="79.00" lengthAdjust="spacingAndGlyphs">Công</tspan> <tspan x="951.00" textLength="37.00" lengthAdjust="spacingAndGlyphs">Cụ</tspan> <tspan x="996.00" textLength="124.20" lengthAdjust="spacingAndGlyphs">Tableau</tspan></text>
</svg>
</body></html>
